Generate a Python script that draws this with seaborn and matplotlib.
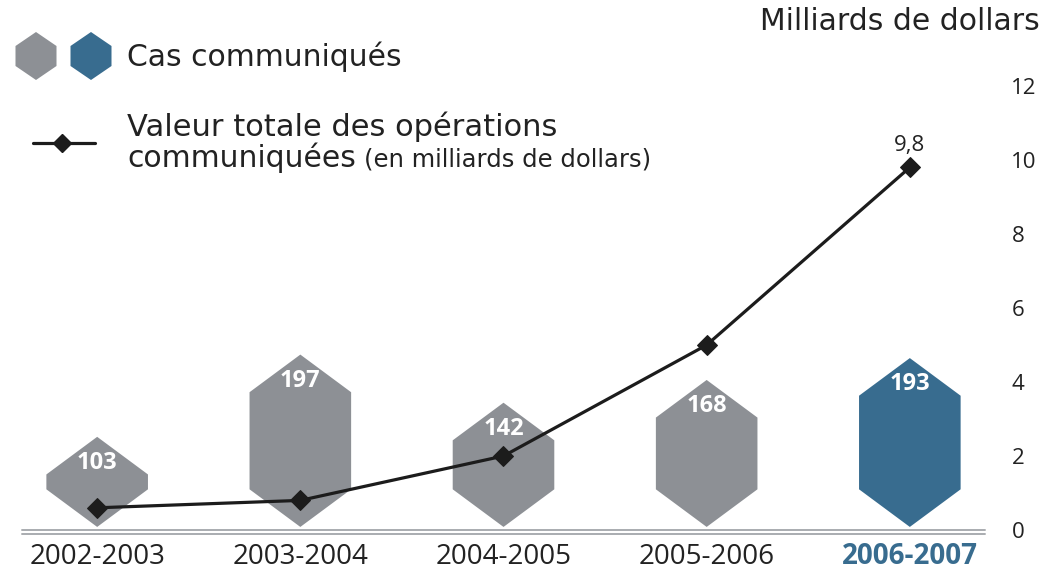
import matplotlib
matplotlib.use("Agg")
import matplotlib.pyplot as plt
import seaborn as sns
import pandas as pd
from matplotlib.patches import Polygon
from matplotlib.lines import Line2D

# ---- data ----
periodes = ["2002-2003", "2003-2004", "2004-2005", "2005-2006", "2006-2007"]
cas = [103, 197, 142, 168, 193]
valeur = [0.6, 0.8, 2.0, 5.0, 9.8]
y_ticks = [0, 2, 4, 6, 8, 10, 12]

GRAY = "#8d9095"
BLUE = "#386c8f"
DARK = "#1c1c1c"
LINEGRAY = "#a9acb0"
TXT = "#222222"
colors = [GRAY, GRAY, GRAY, GRAY, BLUE]
WIDE = ['DejaVu Sans']

sns.set_theme(style="white")
plt.rcParams['font.family'] = ['Open Sans', 'DejaVu Sans']

W, H = 1055, 572
fig = plt.figure(figsize=(W / 100, H / 100), dpi=100)


def fx(px):
    return px / W


def fy(py):
    return 1 - py / H


ax = fig.add_axes([fx(22), fy(530), fx(985) - fx(22), fy(86) - fy(530)])
ax.patch.set_visible(False)
df = pd.DataFrame({"periode": periodes, "cas": cas, "valeur": valeur})
sns.barplot(data=df, x="periode", y="cas", hue="periode", palette=colors,
            width=0.5, ax=ax, legend=False, saturation=1)
ax.set_xlim(-0.37, 4.37)
ax.set_ylim(-3.5, 504)

TIP = 43
for cont in ax.containers:
    for bar in cont:
        x0 = bar.get_x()
        w = bar.get_width()
        h = bar.get_height()
        xc = x0 + w / 2
        verts = [(xc, 0), (x0 + w, TIP), (x0 + w, h - TIP), (xc, h),
                 (x0, h - TIP), (x0, TIP)]
        ax.add_patch(Polygon(verts, closed=True, fc=bar.get_facecolor(),
                             ec='none', zorder=2))
        bar.set_visible(False)
        ax.text(xc, h - 30, f"{int(round(h))}", ha="center", va="center",
                color="white", fontsize=17, fontweight="bold", zorder=3)

# double baseline
ax.axhline(-3.5, color=LINEGRAY, lw=1.4, clip_on=False)
ax.axhline(-8.5, color=LINEGRAY, lw=1.4, clip_on=False)

for s in ax.spines.values():
    s.set_visible(False)
ax.set_yticks([])
ax.set_xlabel("")
ax.set_ylabel("")
ax.set_xticks(range(len(periodes)))
ax.set_xticklabels(periodes, fontsize=20, color=TXT)
ax.tick_params(axis="x", length=0, pad=9)
lbls = ax.get_xticklabels()
lbls[-1].set_color(BLUE)
lbls[-1].set_fontweight("bold")

# line on twin axis
ax2 = ax.twinx()
ax2.patch.set_visible(False)
sns.lineplot(data=df, x="periode", y="valeur", ax=ax2, color=DARK, lw=2.3,
             marker="D", markersize=10, markeredgecolor=DARK, sort=False)
ax2.set_ylim(0, 12)
ax2.set_yticks(y_ticks)
ax2.set_yticklabels([str(t) for t in y_ticks], fontsize=16, color=TXT)
ax2.tick_params(axis="y", length=0, pad=19)
ax2.set_ylabel("")
ax2.set_xlabel("")
for s in ax2.spines.values():
    s.set_visible(False)
ax2.annotate("9,8", xy=(len(periodes) - 1, valeur[-1]), xytext=(0, 16),
             textcoords="offset points", ha="center", va="center",
             fontsize=16, color=TXT)

fig.text(fx(1040), fy(22), "Milliards de dollars", ha="right", va="center",
         fontsize=21.5, color=TXT, family=WIDE)

# legend (drawn in pixel coordinates)
lax = fig.add_axes([0, 0, 1, 1], zorder=5)
lax.set_xlim(0, W)
lax.set_ylim(H, 0)
lax.axis("off")


def hexa(xc, top, bottom, w, tip):
    return [(xc, bottom), (xc + w / 2, bottom - tip), (xc + w / 2, top + tip),
            (xc, top), (xc - w / 2, top + tip), (xc - w / 2, bottom - tip)]


lax.add_patch(Polygon(hexa(36, 32, 80, 41, 14), closed=True, fc=GRAY, ec="none"))
lax.add_patch(Polygon(hexa(91, 32, 80, 41, 14), closed=True, fc=BLUE, ec="none"))
lax.text(127, 57, "Cas communiqués", ha="left", va="center", fontsize=21.5,
         color=TXT, family=WIDE)
lax.add_line(Line2D([33, 95], [143, 143], color=DARK, lw=2.3))
lax.add_line(Line2D([62], [143], color=DARK, marker="D", markersize=9))
lax.text(127, 127, "Valeur totale des opérations", ha="left", va="center",
         fontsize=22, color=TXT, family=WIDE)
t1 = lax.text(127, 158, "communiquées", ha="left", va="center", fontsize=21.5,
              color=TXT, family=WIDE)
fig.canvas.draw()
bb = t1.get_window_extent(renderer=fig.canvas.get_renderer())
xend = bb.x1 / fig.dpi * 100
lax.text(xend + 8, 160, "(en milliards de dollars)", ha="left", va="center",
         fontsize=17.5, color=TXT, family=WIDE)

fig.savefig("out.png", dpi=100)
